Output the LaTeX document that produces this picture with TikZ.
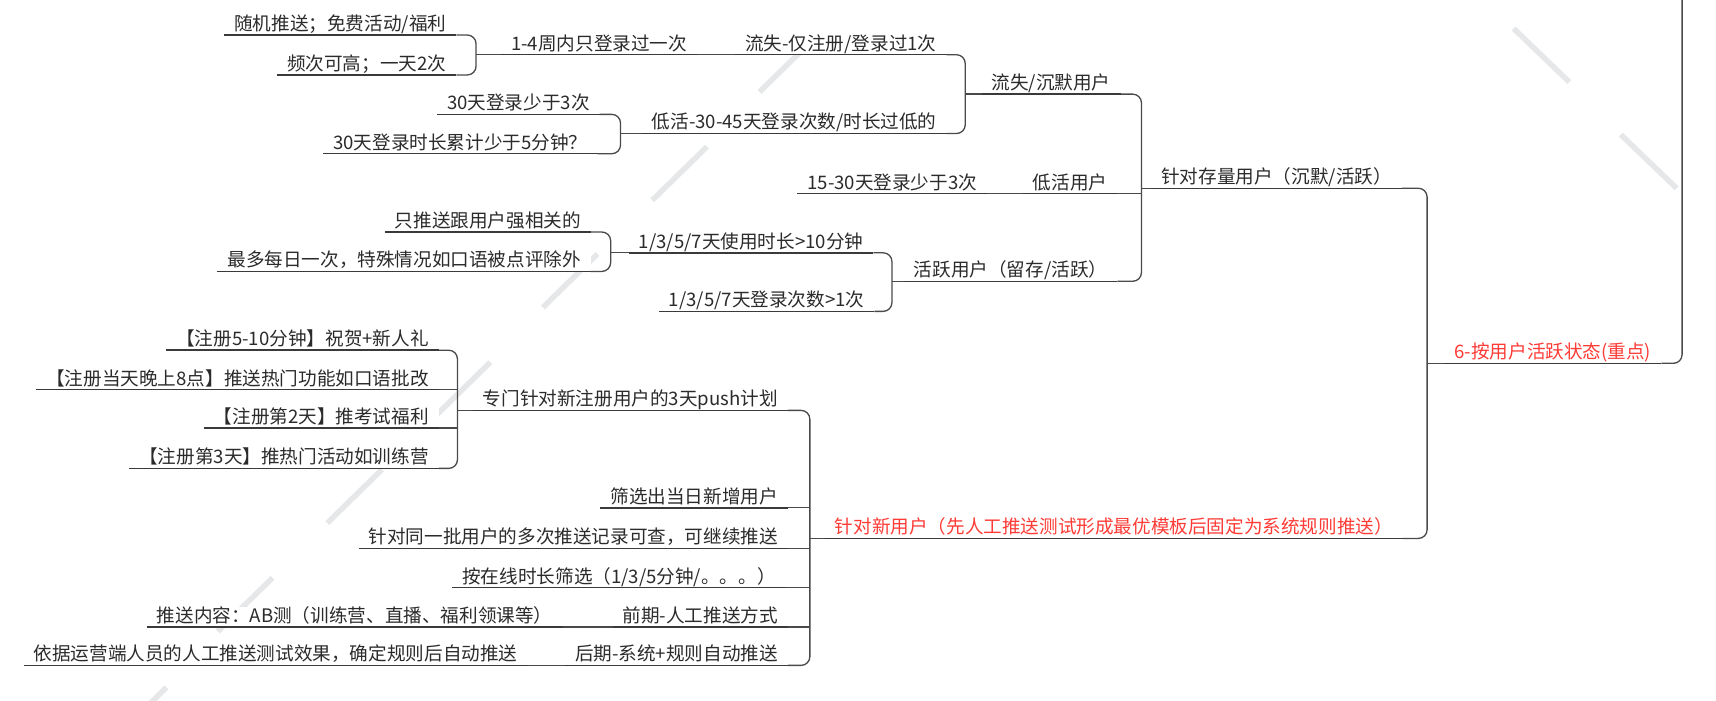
\documentclass[tikz,border=0pt]{standalone}
\usepackage{fontspec}
\setmainfont{Noto Sans CJK SC}
\usepackage{tikz}
\usetikzlibrary{calc}
\definecolor{ink}{HTML}{2B2B2B}
\definecolor{wire}{HTML}{3A3A3A}
\definecolor{linkgray}{HTML}{4A4A4A}
\definecolor{hotred}{HTML}{FF3B36}
\definecolor{wash}{HTML}{E6E7E9}
\tikzset{
  topic/.style={
    anchor=south east,
    fill=white,
    inner xsep=9pt,
    inner ysep=0.5pt,
    text height=14pt,
    text depth=3.5pt,
    font=\fontsize{17pt}{20pt}\selectfont,
    text=ink,
  },
  keytopic/.style={topic, text=hotred},
  underbar/.style={draw=wire, line width=1.3pt},
  branch/.style={draw=linkgray, line width=1.2pt, rounded corners=8pt},
  stamp/.style={draw=wash, line width=5pt},
}

\begin{document}
\begin{tikzpicture}[x=1pt,y=-1pt]
  \fill[white] (0,0) rectangle (1568,640);
  \useasboundingbox (0,0) rectangle (1568,640);

  % watermark strokes
  \foreach \x/\y in {199/577, 299/478, 398/380, 496/281, 596/183, 694/84} {
    \draw[stamp] (\x,\y) -- ++(50,-49);
  }
  \draw[stamp] (128,652) -- ++(24,-24);
  \foreach \x/\y in {1383/26, 1481/123} {
    \draw[stamp] (\x,\y) -- ++(51,49);
  }

  % top level
  \node[keytopic] (act) at (1518,332) {6-按用户活跃状态(重点)};
  \node[topic] (stock) at (1281,172) {针对存量用户（沉默/活跃）};
  \node[keytopic] (newu) at (1282,492) {针对新用户（先人工推送测试形成最优模板后固定为系统规则推送）};

  % existing users
  \node[topic] (churn) at (1024,86) {流失/沉默用户};
  \node[topic] (low) at (1021,177) {低活用户};
  \node[topic] (active) at (1021,257) {活跃用户（留存/活跃）};
  \node[topic] (lost) at (865,50) {流失-仅注册/登录过1次};
  \node[topic] (low45) at (865,122) {低活-30-45天登录次数/时长过低的};
  \node[topic] (once) at (637,50) {1-4周内只登录过一次};
  \node[topic] (rand) at (417,32) {随机推送；免费活动/福利};
  \node[topic] (freq) at (417,68.5) {频次可高；一天2次};
  \node[topic] (l30) at (548,104.5) {30天登录少于3次};
  \node[topic] (t30) at (546,140.5) {30天登录时长累计少于5分钟？};
  \node[topic] (l15) at (902,177) {15-30天登录少于3次};
  \node[topic] (dur) at (798,231) {1/3/5/7天使用时长>10分钟};
  \node[topic] (cnt) at (799,284.5) {1/3/5/7天登录次数>1次};
  \node[topic] (rel) at (540,212) {只推送跟用户强相关的};
  \node[topic] (daily) at (540,248) {最多每日一次，特殊情况如口语被点评除外};

  % new users
  \node[topic] (plan) at (720,375) {专门针对新注册用户的3天push计划};
  \node[topic] (r1) at (401,320) {【注册5-10分钟】祝贺+新人礼};
  \node[topic] (r2) at (401,356) {【注册当天晚上8点】推送热门功能如口语批改};
  \node[topic] (r3) at (401,391) {【注册第2天】推考试福利};
  \node[topic] (r4) at (401,428) {【注册第3天】推热门活动如训练营};
  \node[topic] (pick) at (720,464) {筛选出当日新增用户};
  \node[topic] (batch) at (720,501) {针对同一批用户的多次推送记录可查，可继续推送};
  \node[topic] (online) at (718,537) {按在线时长筛选（1/3/5分钟/。。。）};
  \node[topic] (early) at (720,573) {前期-人工推送方式};
  \node[topic] (late) at (720,608) {后期-系统+规则自动推送};
  \node[topic] (abtest) at (514,573) {推送内容：AB测（训练营、直播、福利领课等）};
  \node[topic] (autorule) at (482,608) {依据运营端人员的人工推送测试效果，确定规则后自动推送};

  \foreach \n in {act,stock,newu,churn,low,active,lost,low45,once,rand,freq,
    l30,t30,l15,dur,cnt,rel,daily,plan,r1,r2,r3,r4,pick,batch,online,
    early,late,abtest,autorule} {
    \draw[underbar] (\n.south west) -- (\n.south east);
  }

  % bracket joints
  \coordinate (root) at (1537,-2);
  \coordinate (bAct) at (1304,332);
  \coordinate (bStock) at (1043,172);
  \coordinate (bChurn) at (882,86);
  \coordinate (bOnce) at (435,50);
  \coordinate (bLow) at (567,122);
  \coordinate (bActive) at (815,257);
  \coordinate (bDur) at (558,231);
  \coordinate (bNew) at (740,492);
  \coordinate (bPlan) at (418,375);

  \draw[branch] (act.south east) -| (root);
  \draw[branch] (bAct) -- (act.south west);
  \draw[branch] (stock.south east) -| (bAct) |- (newu.south east);

  \draw[branch] (bStock) -- (stock.south west);
  \draw[branch] (churn.south east) -| (bStock) |- (active.south east);
  \draw[branch] (low.south east) -- (low.south east -| bStock);

  \draw[branch] (bChurn) -- (churn.south west);
  \draw[branch] (lost.south east) -| (bChurn) |- (low45.south east);
  \draw[branch] (once.south east) -- (lost.south west);
  \draw[branch] (bOnce) -- (once.south west);
  \draw[branch] (rand.south east) -| (bOnce) |- (freq.south east);
  \draw[branch] (bLow) -- (low45.south west);
  \draw[branch] (l30.south east) -| (bLow) |- (t30.south east);
  \draw[branch] (l15.south east) -- (low.south west);

  \draw[branch] (bActive) -- (active.south west);
  \draw[branch] (dur.south east) -| (bActive) |- (cnt.south east);
  \draw[branch] (bDur) -- (dur.south west);
  \draw[branch] (rel.south east) -| (bDur) |- (daily.south east);

  \draw[branch] (bNew) -- (newu.south west);
  \draw[branch] (plan.south east) -| (bNew) |- (late.south east);
  \foreach \n in {pick,batch,online,early} {
    \draw[branch] (\n.south east) -- (\n.south east -| bNew);
  }
  \draw[branch] (bPlan) -- (plan.south west);
  \draw[branch] (r1.south east) -| (bPlan) |- (r4.south east);
  \draw[branch] (r2.south east) -- (r2.south east -| bPlan);
  \draw[branch] (r3.south east) -- (r3.south east -| bPlan);
  \draw[branch] (abtest.south east) -- (early.south west);
  \draw[branch] (autorule.south east) -- (late.south west);
\end{tikzpicture}
\end{document}
